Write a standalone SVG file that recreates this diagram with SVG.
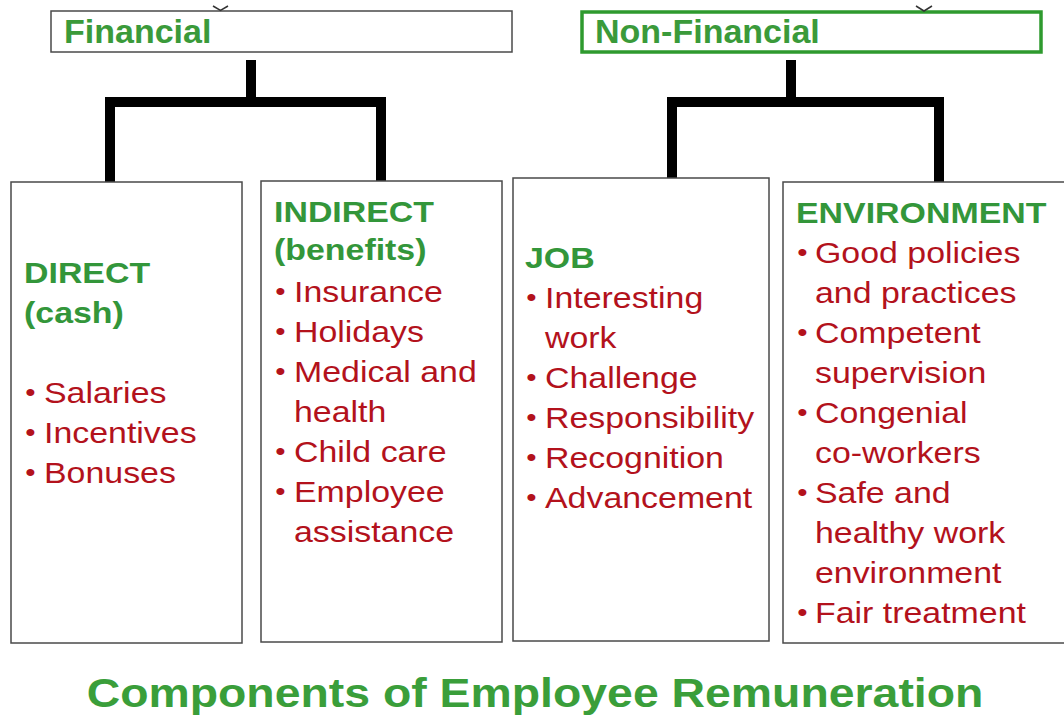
<svg xmlns="http://www.w3.org/2000/svg" width="1064" height="720" viewBox="0 0 1064 720">
  <style>
    .box { fill: #ffffff; stroke: #4a4a4a; stroke-width: 1.5; }
    .top { fill: #ffffff; stroke: #4a4a4a; stroke-width: 1.5; }
    .top-green { fill: #ffffff; stroke: #2e9a2e; stroke-width: 3.5; }
    .cat { font-family: "Liberation Sans", Arial, sans-serif; font-weight: bold; font-size: 34px; fill: #3a9a3a; }
    .head { font-family: "Liberation Sans", Arial, sans-serif; font-weight: bold; font-size: 30px; fill: #33963a; }
    .item { font-family: "Liberation Sans", Arial, sans-serif; font-size: 30px; fill: #b3121c; }
    .bul { font-family: "Liberation Sans", Arial, sans-serif; font-size: 26px; fill: #b3121c; }
    .title { font-family: "Liberation Sans", Arial, sans-serif; font-weight: bold; font-size: 40px; fill: #3a9e3a; }
    .link { fill: none; stroke: #000000; stroke-width: 10; stroke-linejoin: miter; stroke-linecap: butt; }
    .tick { fill: none; stroke: #333333; stroke-width: 1.5; }
  </style>

  <rect width="1064" height="720" fill="#ffffff"/>

  <!-- top-level categories -->
  <g id="financial">
    <rect class="top" x="51" y="11" width="461" height="41"/>
    <polyline class="tick" points="213,6 220.5,10.5 228,6"/>
    <text class="cat" x="64" y="43">Financial</text>
  </g>
  <g id="non-financial">
    <rect class="top-green" x="582" y="12" width="459" height="40"/>
    <polyline class="tick" points="916,6 924,11 932,6"/>
    <text class="cat" x="595" y="43">Non-Financial</text>
  </g>

  <!-- tree connectors -->
  <g id="connectors">
    <path class="link" d="M251,60 V102"/>
    <path class="link" d="M110,182 V102 H381 V182"/>
    <path class="link" d="M791,60 V102"/>
    <path class="link" d="M672,179 V102 H939 V182"/>
  </g>

  <!-- Direct (cash) -->
  <g id="direct">
    <rect class="box" x="11" y="182" width="231" height="461"/>
    <g transform="translate(24,0) scale(1.13,1)">
      <text class="head" x="0" y="283">DIRECT</text>
      <text class="head" x="0" y="323">(cash)</text>
      <text class="bul" x="1" y="401">•</text><text class="item" x="17.7" y="403">Salaries</text>
      <text class="bul" x="1" y="441">•</text><text class="item" x="17.7" y="443">Incentives</text>
      <text class="bul" x="1" y="481">•</text><text class="item" x="17.7" y="483">Bonuses</text>
    </g>
  </g>

  <!-- Indirect (benefits) -->
  <g id="indirect">
    <rect class="box" x="261" y="181" width="241" height="461"/>
    <g transform="translate(274,0) scale(1.13,1)">
      <text class="head" x="0" y="222">INDIRECT</text>
      <text class="head" x="0" y="260">(benefits)</text>
      <text class="bul" x="1" y="300">•</text><text class="item" x="17.7" y="302">Insurance</text>
      <text class="bul" x="1" y="340">•</text><text class="item" x="17.7" y="342">Holidays</text>
      <text class="bul" x="1" y="380">•</text><text class="item" x="17.7" y="382">Medical and</text>
      <text class="item" x="17.7" y="422">health</text>
      <text class="bul" x="1" y="460">•</text><text class="item" x="17.7" y="462">Child care</text>
      <text class="bul" x="1" y="500">•</text><text class="item" x="17.7" y="502">Employee</text>
      <text class="item" x="17.7" y="542">assistance</text>
    </g>
  </g>

  <!-- Job -->
  <g id="job">
    <rect class="box" x="513" y="178" width="256" height="463"/>
    <g transform="translate(525,0) scale(1.13,1)">
      <text class="head" x="0" y="268">JOB</text>
      <text class="bul" x="1" y="306">•</text><text class="item" x="17.7" y="308">Interesting</text>
      <text class="item" x="17.7" y="348">work</text>
      <text class="bul" x="1" y="386">•</text><text class="item" x="17.7" y="388">Challenge</text>
      <text class="bul" x="1" y="426">•</text><text class="item" x="17.7" y="428">Responsibility</text>
      <text class="bul" x="1" y="466">•</text><text class="item" x="17.7" y="468">Recognition</text>
      <text class="bul" x="1" y="506">•</text><text class="item" x="17.7" y="508">Advancement</text>
    </g>
  </g>

  <!-- Environment -->
  <g id="environment">
    <rect class="box" x="783" y="182" width="300" height="461"/>
    <g transform="translate(796,0) scale(1.13,1)">
      <text class="head" x="0" y="223">ENVIRONMENT</text>
      <text class="bul" x="1" y="261">•</text><text class="item" x="16.8" y="263">Good policies</text>
      <text class="item" x="16.8" y="303">and practices</text>
      <text class="bul" x="1" y="341">•</text><text class="item" x="16.8" y="343">Competent</text>
      <text class="item" x="16.8" y="383">supervision</text>
      <text class="bul" x="1" y="421">•</text><text class="item" x="16.8" y="423">Congenial</text>
      <text class="item" x="16.8" y="463">co-workers</text>
      <text class="bul" x="1" y="501">•</text><text class="item" x="16.8" y="503">Safe and</text>
      <text class="item" x="16.8" y="543">healthy work</text>
      <text class="item" x="16.8" y="583">environment</text>
      <text class="bul" x="1" y="621">•</text><text class="item" x="16.8" y="623">Fair treatment</text>
    </g>
  </g>

  <!-- caption -->
  <g id="caption" transform="translate(535,0) scale(1.16,1)">
    <text class="title" x="0" y="707" text-anchor="middle">Components of Employee Remuneration</text>
  </g>
</svg>
